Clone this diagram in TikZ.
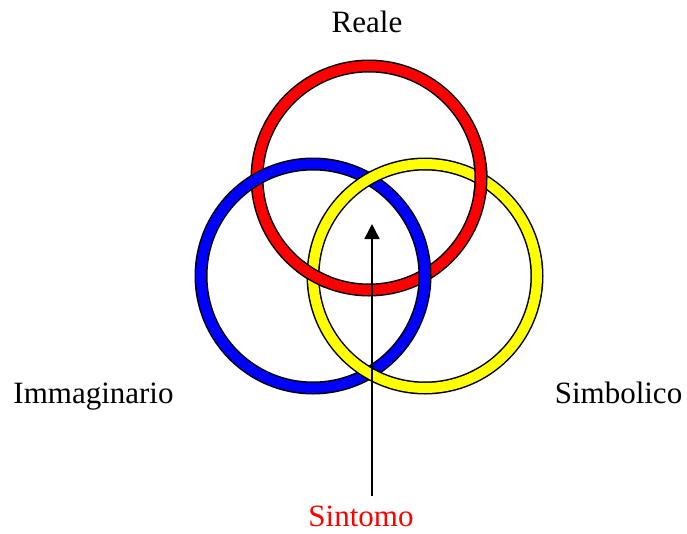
\documentclass[tikz,border=0pt]{standalone}
\usepackage{fontspec}
\setmainfont{Liberation Serif}
\usetikzlibrary{arrows.meta,intersections}
\begin{document}
\begin{tikzpicture}[x=1pt,y=-1pt,
  ringedge/.style={draw=black,line width=13pt},
  ringfill/.style={line width=10pt},
  lbl/.style={font=\fontsize{31}{36}\selectfont,anchor=base,inner sep=0pt}]
\useasboundingbox (0,0) rectangle (687,533);
\coordinate (cR) at (369,178);
\coordinate (cB) at (313,276);
\coordinate (cY) at (425,276);
% red ring
\draw[ringedge] (cR) circle (112);
\draw[ringfill,draw={rgb,255:red,255;green,0;blue,0},name path=pR] (cR) circle (112);
% blue ring (over red)
\draw[ringedge] (cB) circle (112);
\draw[ringfill,draw={rgb,255:red,0;green,0;blue,255}] (cB) circle (112);
% yellow ring (over blue)
\draw[ringedge] (cY) circle (112);
\draw[ringfill,draw={rgb,255:red,255;green,255;blue,0},name path=pY] (cY) circle (112);
% red over yellow at their crossings
\path[name intersections={of=pR and pY,name=ry}];
\foreach \k in {1,2}{
  \begin{scope}
    \clip (ry-\k) circle (17);
    \draw[ringedge] (cR) circle (112);
    \draw[ringfill,draw={rgb,255:red,255;green,0;blue,0}] (cR) circle (112);
  \end{scope}
}
% labels
\node[lbl] (reale) at (367,32) {Reale};
\node[lbl] (imm) at (93.5,403) {Immaginario};
\node[lbl] (simb) at (618.5,403) {Simbolico};
\node[lbl,text={rgb,255:red,255;green,0;blue,0}] (sint) at (361,526) {Sintomo};
\coordinate (tip) at (372,224);
\draw[-{Triangle[width=15pt,length=15pt]},line width=1.5pt,shorten <=9pt] (sint.north -| tip) -- (tip);
\end{tikzpicture}
\end{document}
